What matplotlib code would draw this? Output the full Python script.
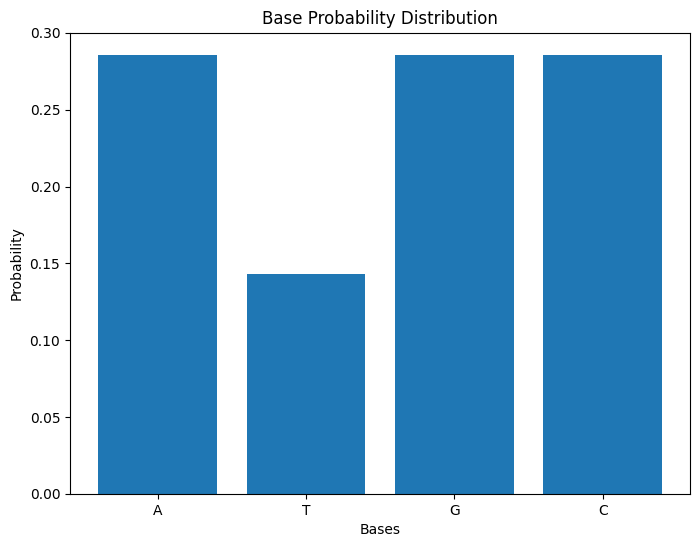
import matplotlib
matplotlib.use("Agg")
import matplotlib.pyplot as plt

# base counts turned into probabilities
bases = ['A', 'T', 'G', 'C']
probs = [0.2857, 0.1429, 0.2857, 0.2857]


def main():
    fig = plt.figure(figsize=(7, 5.47), dpi=100)
    ax = fig.add_axes([0.1, 0.097, 0.886, 0.843])
    ax.bar(bases, probs, color='#1f77b4')
    ax.set_ylim(0, 0.30)
    ax.set_title('Base Probability Distribution')
    ax.set_xlabel('Bases')
    ax.set_ylabel('Probability')
    fig.savefig('out.png', dpi=100)


if __name__ == '__main__':
    main()
